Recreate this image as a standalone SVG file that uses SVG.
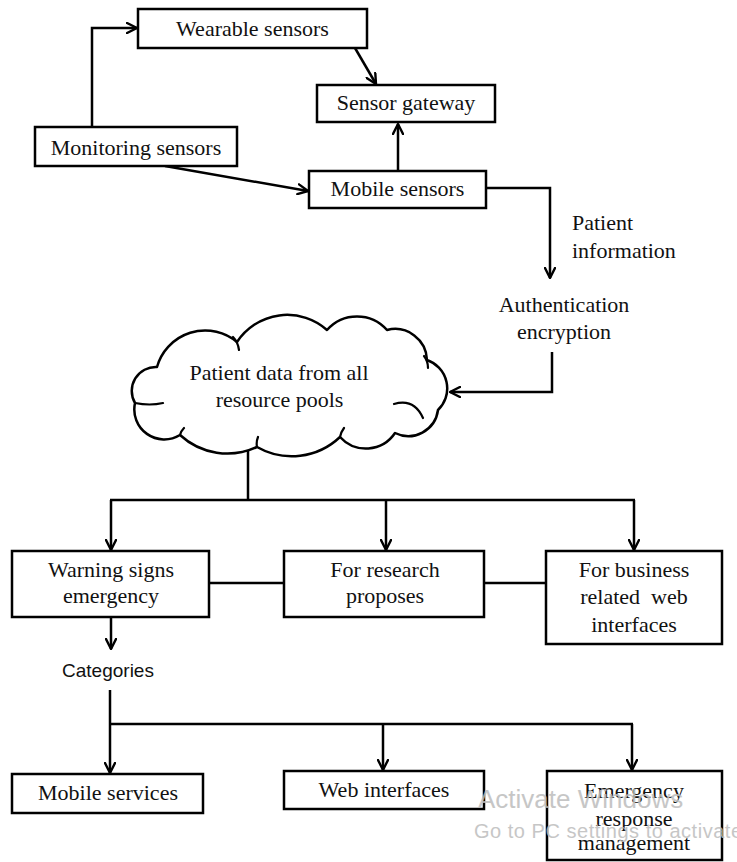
<svg xmlns="http://www.w3.org/2000/svg" width="737" height="862" viewBox="0 0 737 862">
<defs>
<marker id="arr" viewBox="0 0 12 12" refX="11" refY="6" markerWidth="12" markerHeight="12" markerUnits="userSpaceOnUse" orient="auto">
<path d="M1,1 L11,6 L1,11" fill="none" stroke="#000" stroke-width="2.4" stroke-linecap="round" stroke-linejoin="round"/>
</marker>
<style>
.box{fill:#fff;stroke:#000;stroke-width:2.5}
.t{font-family:"Liberation Serif","Times New Roman",serif;font-size:22px;fill:#111;text-anchor:middle}
.tl{font-family:"Liberation Serif","Times New Roman",serif;font-size:22px;fill:#111}
.s{font-family:"Liberation Sans",Arial,sans-serif;font-size:19px;fill:#111;text-anchor:middle}
.c{fill:none;stroke:#000;stroke-width:2.5}
.a{fill:none;stroke:#000;stroke-width:2.5;marker-end:url(#arr)}
.wm{font-family:"Liberation Sans",Arial,sans-serif;fill:#bdbdbd}
</style>
</defs>
<rect width="737" height="862" fill="#fff"/>

<g id="connectors">
<polyline class="a" points="92,127 92,28 137,28"/>
<line class="a" x1="355" y1="48" x2="376" y2="84"/>
<line class="a" x1="398" y1="171" x2="398" y2="124"/>
<line class="a" x1="165" y1="166" x2="308" y2="191"/>
<polyline class="a" points="486,188 550,188 550,278"/>
<polyline class="a" points="552,352 552,392 450,392"/>
<line class="c" x1="248" y1="450" x2="248" y2="500"/>
<line class="c" x1="110" y1="500" x2="635" y2="500"/>
<line class="a" x1="111" y1="500" x2="111" y2="550"/>
<line class="a" x1="386" y1="500" x2="386" y2="550"/>
<line class="a" x1="634" y1="500" x2="634" y2="550"/>
<line class="c" x1="209" y1="583" x2="284" y2="583"/>
<line class="c" x1="484" y1="583" x2="546" y2="583"/>
<line class="a" x1="111" y1="617" x2="111" y2="649"/>
<line class="c" x1="110" y1="690" x2="110" y2="724"/>
<line class="c" x1="109" y1="724" x2="633" y2="724"/>
<line class="a" x1="110" y1="724" x2="110" y2="773"/>
<line class="a" x1="383" y1="724" x2="383" y2="770"/>
<line class="a" x1="632" y1="724" x2="632" y2="770"/>
</g>

<g id="wearable">
<rect class="box" x="138" y="9" width="229" height="39"/>
<text class="t" x="252.5" y="36">Wearable sensors</text>
</g>
<g id="gateway">
<rect class="box" x="317" y="85" width="178" height="37"/>
<text class="t" x="406" y="110">Sensor gateway</text>
</g>
<g id="monitoring">
<rect class="box" x="35" y="127" width="202" height="39"/>
<text class="t" x="136" y="155">Monitoring sensors</text>
</g>
<g id="mobile">
<rect class="box" x="309" y="171" width="177" height="37"/>
<text class="t" x="397.5" y="196">Mobile sensors</text>
</g>
<g id="patient-info">
<text class="tl" x="572" y="230">Patient</text>
<text class="tl" x="572" y="258">information</text>
</g>
<g id="auth">
<text class="t" x="564" y="312">Authentication</text>
<text class="t" x="564" y="339">encryption</text>
</g>
<g id="cloud">
<path fill="#fff" stroke="#000" stroke-width="2.5" stroke-linejoin="round" d="M157,367 A50,50 0 0 1 237,342 A60,60 0 0 1 327,330 A40,40 0 0 1 387,330 A32,32 0 0 1 427,360 A30,30 0 0 1 438,410 A30,30 0 0 1 395,433 A35,35 0 0 1 340,437 A70,70 0 0 1 257,447 A70,70 0 0 1 180,435 A30,30 0 0 1 135,403 A24,24 0 0 1 157,367 Z"/>
<path fill="none" stroke="#000" stroke-width="2.2" stroke-linecap="round" d="M233,337 Q238,342 239,350 M135,403 Q150,406 163,403 M424,356 Q428,361 428,368 M394,404 Q414,398 423,418 M340,437 Q341,432 344,428 M257,447 Q256,442 258,437 M180,435 Q181,431 184,428"/>
<text class="t" x="279" y="380">Patient data from all</text>
<text class="t" x="279.5" y="407">resource pools</text>
</g>
<g id="warning">
<rect class="box" x="12" y="551" width="197" height="66"/>
<text class="t" x="111" y="577">Warning signs</text>
<text class="t" x="111" y="603">emergency</text>
</g>
<g id="research">
<rect class="box" x="284" y="551" width="200" height="66"/>
<text class="t" x="385" y="577">For research</text>
<text class="t" x="385" y="603">proposes</text>
</g>
<g id="business">
<rect class="box" x="546" y="551" width="176" height="93"/>
<text class="t" x="634" y="577">For business</text>
<text class="t" x="634" y="604" xml:space="preserve">related  web</text>
<text class="t" x="634" y="632">interfaces</text>
</g>
<g id="categories">
<text class="s" x="108" y="677">Categories</text>
</g>
<g id="mobile-services">
<rect class="box" x="12" y="774" width="191" height="39"/>
<text class="t" x="108" y="800">Mobile services</text>
</g>
<g id="web-interfaces">
<rect class="box" x="284" y="771" width="200" height="38"/>
<text class="t" x="384" y="797">Web interfaces</text>
</g>
<g id="emergency">
<rect class="box" x="547" y="771" width="175" height="89"/>
<text class="t" x="634" y="798">Emergency</text>
<text class="t" x="634" y="826">response</text>
<text class="t" x="634" y="850">management</text>
</g>
<g id="watermark" opacity="0.85">
<text class="wm" x="478" y="808" font-size="26">Activate Windows</text>
<text class="wm" x="474" y="838" font-size="20" textLength="268">Go to PC settings to activate</text>
</g>
</svg>
